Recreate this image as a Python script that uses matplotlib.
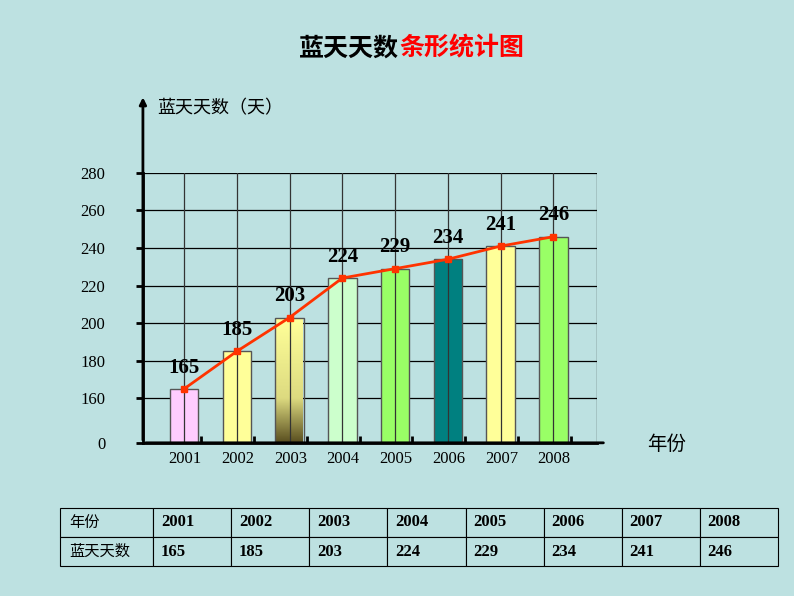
import numpy as np
import matplotlib.pyplot as plt
from matplotlib.colors import LinearSegmentedColormap

years = ["2001", "2002", "2003", "2004", "2005", "2006", "2007", "2008"]
days = [165, 185, 203, 224, 229, 234, 241, 246]
yticks = [0, 160, 180, 200, 220, 240, 260, 280]
bar_colors = ["#ffccff", "#ffff99", "#8a7a3a", "#ccffcc", "#99ff66", "#008080", "#ffff99", "#99ff66"]

cjk = "Noto Sans CJK SC"
serif = "Liberation Serif"
bg = "#bde1e1"


def fwd(v):
    v = np.asarray(v, dtype=float)
    return np.where(v >= 160, v, 136.3 + v * 23.7 / 160)


def inv(v):
    v = np.asarray(v, dtype=float)
    return np.where(v >= 160, v, (v - 136.3) * 160 / 23.7)


fig = plt.figure(figsize=(7.94, 5.96), dpi=100, facecolor=bg)
fig.text(0.503, 0.918, "蓝天天数", color="black", fontsize=18, fontweight="bold",
         fontfamily=cjk, ha="right", va="center")
fig.text(0.503, 0.918, "条形统计图", color="#ff0000", fontsize=18, fontweight="bold",
         fontfamily=cjk, ha="left", va="center")

ax = fig.add_axes([0.180, 0.257, 0.572, 0.453])
ax.set_facecolor(bg)
ax.set_yscale("function", functions=(fwd, inv))
x = np.arange(len(years))

for xi, v, c in zip(x, days, bar_colors):
    if xi == 2:
        cmap = LinearSegmentedColormap.from_list("g", ["#5a4f20", "#ffff99"])
        grad = np.linspace(0, 1, 100).reshape(-1, 1)
        ax.imshow(grad, cmap=cmap, extent=(xi - 0.27, xi + 0.27, 0, v), aspect="auto",
                  origin="lower", zorder=1)
        ax.bar(xi, v, width=0.54, facecolor="none", edgecolor="#555555", lw=1, zorder=2)
    else:
        ax.bar(xi, v, width=0.54, color=c, edgecolor="#555555", lw=1, zorder=2)

ax.set_xlim(-0.78, 7.83)
ax.set_ylim(0, 280)
for t in yticks[1:]:
    ax.axhline(t, color="black", lw=0.9, zorder=0)
for xi in x:
    ax.axvline(xi, color="#333333", lw=0.9, zorder=3)
ax.axvline(7.83, color="black", lw=0.9)

ax.plot(x, days, color="#ff3300", lw=2, marker="s", ms=5, zorder=5)
for xi, v in zip(x, days):
    ax.text(xi, v + 6, str(v), ha="center", va="bottom", fontsize=15, fontweight="bold",
            fontfamily=serif, zorder=6)

for s in ["top", "right"]:
    ax.spines[s].set_visible(False)
ax.spines["left"].set_linewidth(2)
ax.spines["bottom"].set_linewidth(2)
ax.set_yticks(yticks)
ax.set_yticklabels([str(t) for t in yticks], fontfamily=serif, fontsize=12)
ax.tick_params(axis="y", length=5, width=2, pad=22)
ax.set_xticks(x + 0.33)
ax.set_xticklabels(years, fontfamily=serif, fontsize=12)
ax.tick_params(axis="x", length=5, width=2, direction="in", pad=6)
for lab in ax.get_xticklabels():
    lab.set_ha("right")

# axis arrows
ax.annotate("", xy=(0, 1.29), xytext=(0, 0), xycoords="axes fraction",
            arrowprops=dict(arrowstyle="-|>", lw=2, color="black", mutation_scale=10))
ax.annotate("", xy=(1.02, 0), xytext=(0, 0), xycoords="axes fraction",
            arrowprops=dict(arrowstyle="-", lw=2, color="black"))
fig.text(0.198, 0.818, "蓝天天数（天）", fontsize=13, fontfamily=cjk, va="center")
fig.text(0.815, 0.255, "年份", fontsize=14, fontfamily=cjk, va="center")

# data table
tax = fig.add_axes([60 / 794, 1 - 566 / 596, 718 / 794, 58 / 596])
tax.axis("off")
cells = [["年份"] + years, ["蓝天天数"] + [str(v) for v in days]]
widths = [93 / 718] + [625 / 718 / 8] * 8
tbl = tax.table(cellText=cells, colWidths=widths, loc="center", bbox=[0, 0, 1, 1],
                cellLoc="left")
tbl.auto_set_font_size(False)
for (r, c), cell in tbl.get_celld().items():
    cell.set_facecolor(bg)
    cell.set_linewidth(0.8)
    if c == 0:
        cell.set_text_props(fontfamily=cjk, fontsize=11)
    else:
        cell.set_text_props(fontfamily=serif, fontsize=12, fontweight="bold")

fig.savefig("out.png", dpi=100, facecolor=bg)
